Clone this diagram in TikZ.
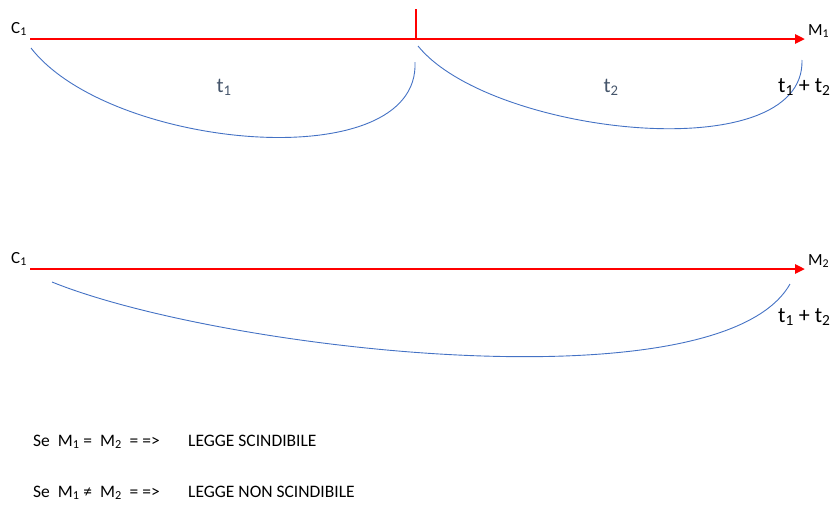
\documentclass[tikz,border=0pt]{standalone}
\usepackage{fontspec}
\setmainfont{Carlito}
\usetikzlibrary{arrows.meta, positioning}
\definecolor{axisred}{HTML}{FF0000}
\definecolor{arcblue}{HTML}{4472C4}
\definecolor{lblgray}{HTML}{44546A}
\tikzset{
    time_axis/.style={
        draw=axisred, line width=2.6pt, -{Triangle[length=10pt, width=9pt]}
    },
    tick_mark/.style={
        draw=axisred, line width=2.6pt
    },
    time_arc/.style={
        draw=arcblue, line width=0.9pt
    },
    pt_lbl/.style={
        font=\fontsize{17}{20}\selectfont, inner sep=0pt
    },
    t_lbl/.style={
        font=\fontsize{21}{24}\selectfont, text=lblgray, inner sep=0pt
    },
    sum_lbl/.style={
        font=\fontsize{22}{26}\selectfont, inner sep=0pt
    },
    rule_lbl/.style={
        font=\fontsize{17.5}{20}\selectfont, inner sep=0pt, anchor=base west
    }
}

\begin{document}
\begin{tikzpicture}[x=1pt, y=-1pt]
    \useasboundingbox (0,0) rectangle (830,504);

    % Top axis
    \coordinate (a1) at (30,39);
    \coordinate (b1) at (805,39);
    \coordinate (mid) at (416,39);
    \coordinate (midtop) at (416,9);
    \draw[time_axis] (a1) -- (b1);
    \draw[tick_mark] (midtop) -- (mid);
    \node[pt_lbl, anchor=base east] (c1top) at (27,33) {C\textsubscript{1}};
    \node[pt_lbl, anchor=base west] (m1) at (808,35) {M\textsubscript{1}};

    % Top arcs
    \coordinate (arcAs) at (31,48);
    \coordinate (arcAe) at (415,62);
    \coordinate (arcBs) at (418,46);
    \coordinate (arcBe) at (802,60);
    \draw[time_arc] (arcAs) .. controls (110,150) and (420,178) .. (arcAe);
    \draw[time_arc] (arcBs) .. controls (490,135) and (805,170) .. (arcBe);
    \node[t_lbl, anchor=base] (t1) at (224,92) {t\textsubscript{1}};
    \node[t_lbl, anchor=base] (t2) at (611,92) {t\textsubscript{2}};
    \node[sum_lbl, anchor=base west] (sumtop) at (778,92) {t\textsubscript{1} + t\textsubscript{2}};

    % Bottom axis
    \coordinate (a2) at (30,269);
    \coordinate (b2) at (805,269);
    \draw[time_axis] (a2) -- (b2);
    \node[pt_lbl, anchor=base east] (c1bot) at (27,263) {C\textsubscript{1}};
    \node[pt_lbl, anchor=base west] (m2) at (808,265) {M\textsubscript{2}};

    % Bottom arc
    \coordinate (arcCs) at (52,282);
    \coordinate (arcCe) at (790,284);
    \draw[time_arc] (arcCs) .. controls (220,350) and (720,408) .. (arcCe);
    \node[sum_lbl, anchor=base west] (sumbot) at (778,322) {t\textsubscript{1} + t\textsubscript{2}};

    % Rules
    \node[rule_lbl] (se1) at (33,446) {Se\ \ M\textsubscript{1} = \ M\textsubscript{2}\ \ = =>};
    \node[rule_lbl] (law1) at (188,446) {LEGGE SCINDIBILE};
    \node[rule_lbl] (se2) at (33,497) {Se\ \ M\textsubscript{1} ≠ \ M\textsubscript{2}\ \ = =>};
    \node[rule_lbl] (law2) at (188,497) {LEGGE NON SCINDIBILE};
\end{tikzpicture}
\end{document}
